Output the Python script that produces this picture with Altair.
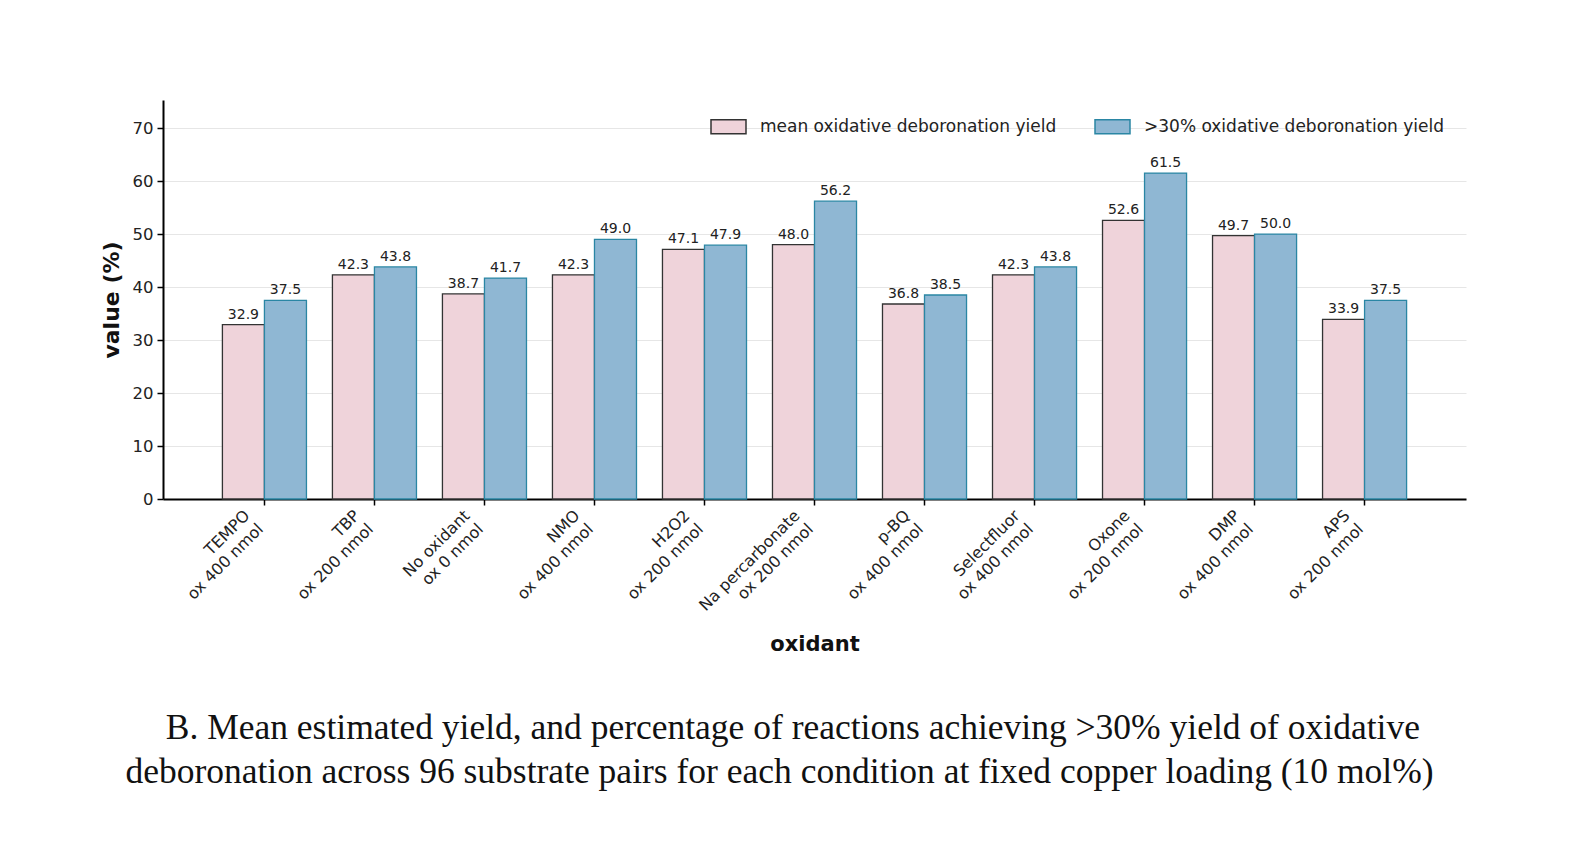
import altair as alt
import pandas as pd

oxidants = ["TEMPO|ox 400 nmol", "TBP|ox 200 nmol", "No oxidant|ox 0 nmol", "NMO|ox 400 nmol",
            "H2O2|ox 200 nmol", "Na percarbonate|ox 200 nmol", "p-BQ|ox 400 nmol",
            "Selectfluor|ox 400 nmol", "Oxone|ox 200 nmol", "DMP|ox 400 nmol", "APS|ox 200 nmol"]
mean_yield = [32.9, 42.3, 38.7, 42.3, 47.1, 48.0, 36.8, 42.3, 52.6, 49.7, 33.9]
over30_yield = [37.5, 43.8, 41.7, 49.0, 47.9, 56.2, 38.5, 43.8, 61.5, 50.0, 37.5]
series = ["mean oxidative deboronation yield", ">30% oxidative deboronation yield"]
fills = ["#efd3da", "#8fb7d3"]
strokes = ["#333333", "#2a86a4"]
y_ticks = [0, 10, 20, 30, 40, 50, 60, 70]
caption = ["\u200b\u00a0\u00a0\u00a0B. Mean estimated yield, and percentage of reactions achieving >30% yield of oxidative",
           "deboronation across 96 substrate pairs for each condition at fixed copper loading (10 mol%)"]

rows = []
for i, ox in enumerate(oxidants):
    rows.append({"oxidant": ox, "series": series[0], "value": mean_yield[i], "lbl": f"{mean_yield[i]:.1f}"})
    rows.append({"oxidant": ox, "series": series[1], "value": over30_yield[i], "lbl": f"{over30_yield[i]:.1f}"})
df = pd.DataFrame(rows)

font = "DejaVu Sans"

x_enc = alt.X("oxidant:N", sort=oxidants,
              scale=alt.Scale(paddingInner=0.236, paddingOuter=0.54),
              axis=alt.Axis(title="oxidant", labelAngle=315, labelAlign="right", labelBaseline="top",
                            labelExpr="split(datum.label, '|')", labelFontSize=16, labelFont=font,
                            labelColor="#222222", labelPadding=2, labelOffset=-23, labelLineHeight=19,
                            titleFont=font, titleFontSize=21, titleFontWeight="bold", titleColor="#111111",
                            titlePadding=7, domainColor="#000000", domainWidth=2,
                            tickColor="#000000", tickWidth=1.5, tickSize=6, grid=False))
xoff = alt.XOffset("series:N", sort=series, scale=alt.Scale(domain=series, paddingInner=0, paddingOuter=0))

y_enc = alt.Y("value:Q", scale=alt.Scale(domain=[0, 75.3], nice=False),
              axis=alt.Axis(title="value (%)", values=y_ticks, labelFontSize=16.5, labelFont=font,
                            labelColor="#222222", labelPadding=4,
                            titleFont=font, titleFontSize=22, titleFontWeight="bold", titleColor="#111111",
                            titlePadding=9, domainColor="#000000", domainWidth=2,
                            tickColor="#000000", tickWidth=1.5, tickSize=6,
                            grid=True, gridColor="#e6e6e6", gridWidth=1))

legend = alt.Legend(title=None, orient="none", legendX=547, legendY=8, direction="horizontal",
                    symbolType="M-1,-0.4H1V0.4H-1Z", symbolSize=1225, symbolStrokeWidth=1.5,
                    labelFont=font, labelFontSize=17, labelColor="#222222", labelOffset=13,
                    labelLimit=0, columnPadding=35)

bars = alt.Chart(df).mark_bar(strokeWidth=1.3).encode(
    x=x_enc, xOffset=xoff, y=y_enc,
    fill=alt.Fill("series:N", sort=series, scale=alt.Scale(domain=series, range=fills), legend=legend),
    stroke=alt.Stroke("series:N", sort=series, scale=alt.Scale(domain=series, range=strokes), legend=legend),
)

labels = alt.Chart(df).mark_text(baseline="bottom", dy=-3, fontSize=14, font=font, color="#222222").encode(
    x=alt.X("oxidant:N", sort=oxidants), xOffset=xoff, y="value:Q", text="lbl:N"
)

chart = alt.layer(bars, labels).properties(
    width=1303, height=399,
    background="white",
    autosize=alt.AutoSizeParams(type="none"),
    padding={"left": 155, "top": 92, "right": 60, "bottom": 300},
    title=alt.TitleParams(
        text=caption,
        orient="bottom", anchor="middle", font="Liberation Serif", fontSize=35.5, fontWeight="normal",
        color="#111111", lineHeight=44, offset=56, dx=-35),
).configure_view(stroke=None)

chart.save("out.html", embed_options={"renderer": "svg", "actions": False})
